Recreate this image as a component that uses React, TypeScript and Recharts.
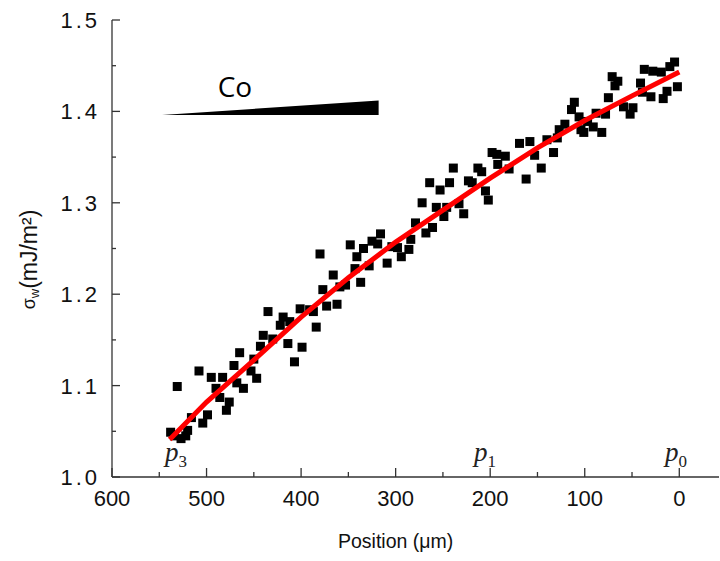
import { ScatterChart, Scatter, XAxis, YAxis, ReferenceLine, ReferenceDot } from 'recharts';

// measured wall energy vs position along the Co wedge
const positionUm = [
  538, 534, 527, 522, 531, 520, 516, 508, 504, 499, 495, 490, 486, 483, 479, 476, 471, 468, 465, 461,
  453, 450, 447, 443, 440, 435, 430, 422, 419,
  414, 412, 407, 401, 399, 391, 387, 384, 380, 377, 373, 366, 362, 359, 353, 348, 343, 341, 337, 334,
  328, 325, 319, 316, 309, 304, 298, 294,
  286, 284, 279, 272, 268, 264, 261, 257, 253, 249, 246, 243, 239, 233, 228, 223, 219, 213, 209, 205,
  202, 198, 193, 192, 184, 180, 169, 162, 158,
  153, 146, 140, 133, 129, 127, 121, 114, 111, 106, 104, 101, 97, 91, 88, 82, 78, 75,
  71, 68, 65, 59, 52, 49, 41, 39, 37, 30, 28, 19, 17, 13, 10, 5, 2,
];
const sigmaW = [
  1.049, 1.045, 1.042, 1.045, 1.099, 1.051, 1.065, 1.116, 1.059, 1.068, 1.109, 1.097, 1.087, 1.109, 1.073, 1.082, 1.122, 1.103, 1.136, 1.097,
  1.116, 1.129, 1.108, 1.143, 1.155, 1.181, 1.151, 1.166, 1.175,
  1.146, 1.170, 1.126, 1.184, 1.142, 1.183, 1.181, 1.164, 1.244, 1.205, 1.187, 1.221, 1.189, 1.208, 1.210, 1.254, 1.228, 1.241, 1.213, 1.250,
  1.231, 1.258, 1.255, 1.266, 1.234, 1.252, 1.251, 1.241,
  1.249, 1.260, 1.278, 1.300, 1.267, 1.322, 1.273, 1.295, 1.314, 1.285, 1.295, 1.322, 1.338, 1.299, 1.288, 1.324, 1.322, 1.338, 1.334, 1.313,
  1.303, 1.355, 1.353, 1.342, 1.351, 1.337, 1.365, 1.326, 1.367,
  1.352, 1.338, 1.369, 1.355, 1.371, 1.380, 1.386, 1.402, 1.410, 1.394, 1.380, 1.377, 1.389, 1.383, 1.398, 1.377, 1.397, 1.415,
  1.438, 1.428, 1.433, 1.405, 1.397, 1.404, 1.431, 1.421, 1.446, 1.416, 1.444, 1.443, 1.414, 1.422, 1.449, 1.454, 1.427,
];

// red fit curve
const fitPositionUm = [539, 500, 450, 400, 350, 300, 250, 200, 150, 100, 50, 0];
const fitSigmaW = [1.041, 1.082, 1.128, 1.175, 1.218, 1.257, 1.292, 1.327, 1.360, 1.390, 1.417, 1.443];

const xTickValues = [600, 550, 500, 450, 400, 350, 300, 250, 200, 150, 100, 50, 0];
const yTickValues = [1.0, 1.05, 1.1, 1.15, 1.2, 1.25, 1.3, 1.35, 1.4, 1.45, 1.5];

// p markers along the sample
const markerNames = ['3', '1', '0'];
const markerPositionUm = [544, 217, 15];

const X_DOMAIN: [number, number] = [-42, 600];
const AXIS_COLOR = '#333333';
const TEXT_COLOR = '#111111';
const FONT = '"Liberation Sans", Arial, sans-serif';

const points = positionUm.map((x, i) => ({ x, y: sigmaW[i] }));
const fit = fitPositionUm.map((x, i) => ({ x, y: fitSigmaW[i] }));

const isMajorX = (v: number) => v % 100 === 0;
const isMajorY = (v: number) => Math.round(v * 100) % 10 === 0;

const BottomTick = (props: any) => {
  const { x, y, payload } = props;
  const major = isMajorX(payload.value);
  return (
    <g>
      <line x1={x} x2={x} y1={y} y2={y - (major ? 9 : 5)} stroke={AXIS_COLOR} strokeWidth={1.3} />
      {major && (
        <text x={x} y={y + 28.5} textAnchor="middle" fontFamily={FONT} fontSize={22} fill={TEXT_COLOR}>
          {payload.value}
        </text>
      )}
    </g>
  );
};

const TopTick = (props: any) => {
  const { x, y, payload } = props;
  const major = isMajorX(payload.value);
  return <line x1={x} x2={x} y1={y} y2={y + (major ? 9 : 5)} stroke={AXIS_COLOR} strokeWidth={1.3} />;
};

const LeftTick = (props: any) => {
  const { x, y, payload } = props;
  const major = isMajorY(payload.value);
  return (
    <g>
      <line x1={x} x2={x + (major ? 8 : 4)} y1={y} y2={y} stroke={AXIS_COLOR} strokeWidth={1.3} />
      {major && (
        <text
          x={x - 12}
          y={y + 8}
          textAnchor="end"
          fontFamily={FONT}
          fontSize={22}
          letterSpacing={3}
          fill={TEXT_COLOR}
        >
          {payload.value.toFixed(1)}
        </text>
      )}
    </g>
  );
};

const RightTick = (props: any) => {
  const { x, y, payload } = props;
  const major = isMajorY(payload.value);
  return <line x1={x} x2={x - (major ? 8 : 4)} y1={y} y2={y} stroke={AXIS_COLOR} strokeWidth={1.3} />;
};

const XTitle = (props: any) => {
  const vb = props.viewBox || { x: 112, y: 477, width: 607, height: 84 };
  // centred under the 0..600 span
  const cx = vb.x + (vb.width * (X_DOMAIN[1] - 300)) / (X_DOMAIN[1] - X_DOMAIN[0]);
  return (
    <text x={cx} y={vb.y + 71} textAnchor="middle" fontFamily={FONT} fontSize={19.5} fill={TEXT_COLOR}>
      Position (μm)
    </text>
  );
};

const YTitle = (props: any) => {
  const vb = props.viewBox || { x: 0, y: 20, width: 112, height: 457 };
  const cx = vb.x + 29;
  const cy = vb.y + vb.height / 2 + 11;
  return (
    <text
      x={cx}
      y={cy}
      transform={`rotate(-90, ${cx}, ${cy})`}
      textAnchor="middle"
      dominantBaseline="central"
      fontFamily={FONT}
      fontSize={23}
      fill={TEXT_COLOR}
    >
      <tspan fontSize={18}>σ</tspan>
      <tspan fontSize={13} dy={5}>w</tspan>
      <tspan dy={-5}>(mJ/m²)</tspan>
    </text>
  );
};

const Square = (props: any) => (
  <rect x={props.cx - 4.5} y={props.cy - 4.5} width={9} height={9} fill="#000000" />
);

// wedge drawn between the two segment end points
const Wedge = (props: any) => {
  const { x1, y1, x2, y2 } = props;
  return <polygon points={`${x1},${y1} ${x2},${y2} ${x2},${y1}`} fill="#000000" />;
};

const markerLabel = (name: string) => (props: any) => (
  <text x={props.cx} y={props.cy} fontFamily='"Liberation Serif", "DejaVu Serif", serif' fill="#222222">
    <tspan fontStyle="italic" fontSize={27}>p</tspan>
    <tspan fontSize={17} dy={6}>{name}</tspan>
  </text>
);

const CoLabel = (props: any) => (
  <text x={props.cx} y={props.cy} textAnchor="middle" fontFamily='"Open Sans", sans-serif' fontSize={28} fill="#000000">
    Co
  </text>
);

export default function App() {
  return (
    <div style={{ position: 'absolute', left: 0, top: 0, width: 720, height: 561, background: '#ffffff' }}>
      <ScatterChart width={720} height={561} margin={{ top: 20, right: 1, bottom: 0, left: 0 }}>
        <XAxis
          dataKey="x"
          type="number"
          domain={X_DOMAIN}
          reversed
          allowDataOverflow
          ticks={xTickValues}
          interval={0}
          tickSize={0}
          tickMargin={0}
          tickLine={false}
          axisLine={{ stroke: AXIS_COLOR, strokeWidth: 1.3 }}
          tick={<BottomTick />}
          height={84}
          label={{ content: XTitle }}
        />
        <XAxis
          xAxisId="top"
          orientation="top"
          dataKey="x"
          type="number"
          domain={X_DOMAIN}
          reversed
          allowDataOverflow
          ticks={xTickValues}
          interval={0}
          tickSize={0}
          tickMargin={0}
          tickLine={false}
          axisLine={{ stroke: AXIS_COLOR, strokeWidth: 1.3 }}
          tick={<TopTick />}
          height={0}
        />
        <YAxis
          dataKey="y"
          type="number"
          domain={[1, 1.5]}
          allowDataOverflow
          ticks={yTickValues}
          interval={0}
          tickSize={0}
          tickMargin={0}
          tickLine={false}
          axisLine={{ stroke: AXIS_COLOR, strokeWidth: 1.3 }}
          tick={<LeftTick />}
          width={112}
          label={{ content: YTitle }}
        />
        <YAxis
          yAxisId="right"
          orientation="right"
          dataKey="y"
          type="number"
          domain={[1, 1.5]}
          allowDataOverflow
          ticks={yTickValues}
          interval={0}
          tickSize={0}
          tickMargin={0}
          tickLine={false}
          axisLine={{ stroke: AXIS_COLOR, strokeWidth: 1.3 }}
          tick={<RightTick />}
          width={0}
        />
        <Scatter data={points} shape={<Square />} isAnimationActive={false} />
        <Scatter
          data={fit}
          line={{ stroke: '#ff0000', strokeWidth: 5 }}
          shape={() => <g />}
          isAnimationActive={false}
        />
        <ReferenceLine segment={[{ x: 547, y: 1.396 }, { x: 318, y: 1.412 }]} shape={Wedge} />
        <ReferenceDot x={470} y={1.416} shape={CoLabel} />
        {markerNames.map((name, i) => (
          <ReferenceDot key={name} x={markerPositionUm[i]} y={1.018} shape={markerLabel(name)} />
        ))}
      </ScatterChart>
    </div>
  );
}
